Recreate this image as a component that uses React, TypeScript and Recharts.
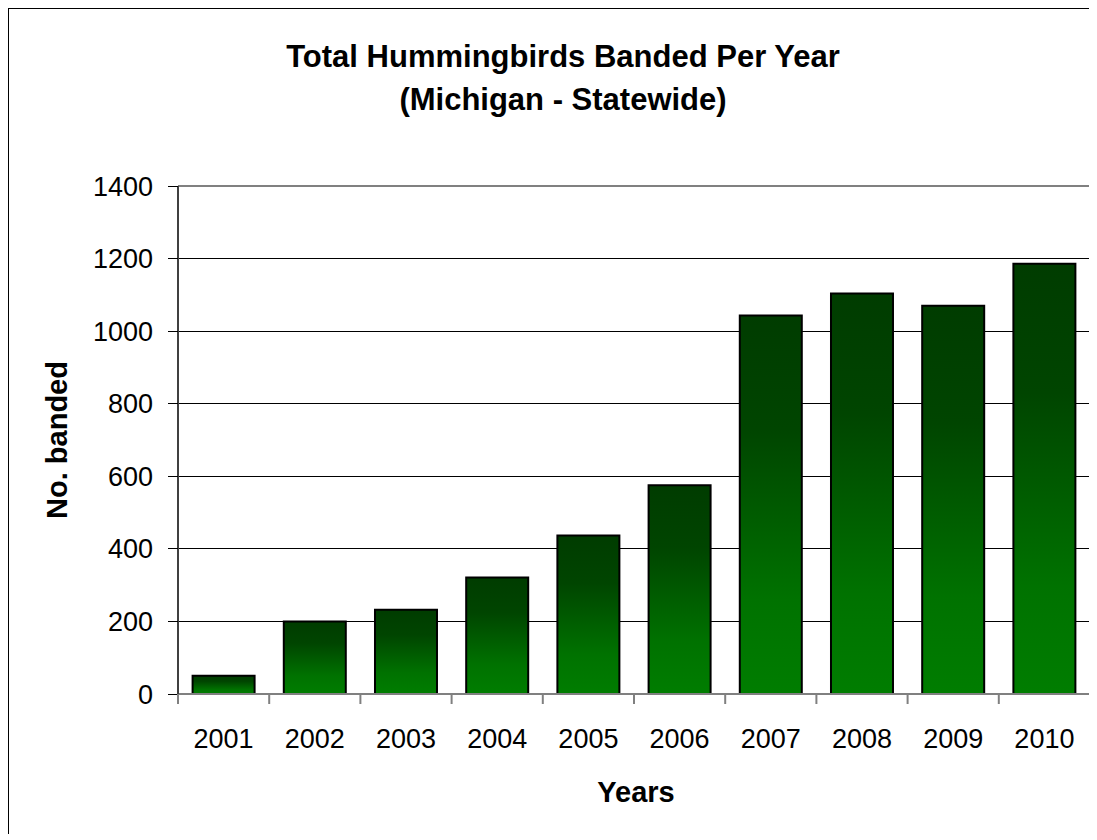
import React from 'react';
import { BarChart, Bar, XAxis, YAxis, CartesianGrid, ReferenceLine } from 'recharts';

const years = ['2001', '2002', '2003', '2004', '2005', '2006', '2007', '2008', '2009', '2010'];
const banded = [50, 200, 232, 321, 437, 575, 1043, 1104, 1070, 1186];
const yTicks = [0, 200, 400, 600, 800, 1000, 1200, 1400];

const data = years.map((y, i) => ({ year: y, banded: banded[i] }));

const FONT = '"Liberation Sans", Arial, sans-serif';

const XTick = (props: any) => {
  const { x, y, payload, index, visibleTicksCount, width } = props;
  const off =
    payload && typeof payload.offset === 'number' && payload.offset > 0
      ? payload.offset
      : width && visibleTicksCount
      ? width / visibleTicksCount / 2
      : 45.6;
  const isLast = index === visibleTicksCount - 1;
  return (
    <g>
      <line x1={x - off} x2={x - off} y1={y} y2={y + 10} stroke="#808080" strokeWidth={2} />
      {isLast && <line x1={x + off} x2={x + off} y1={y} y2={y + 10} stroke="#808080" strokeWidth={2} />}
      <text x={x} y={y + 54} textAnchor="middle" fontSize={27} fontFamily={FONT} fill="#000">
        {payload.value}
      </text>
    </g>
  );
};

export default function App() {
  return (
    <div
      style={{
        position: 'relative',
        width: 1088,
        height: 825,
        borderTop: '1px solid #000',
        borderLeft: '1px solid #000',
        fontFamily: FONT,
      }}
    >
      <div
        style={{
          position: 'absolute',
          left: 254,
          top: 26,
          width: 600,
          textAlign: 'center',
          fontWeight: 'bold',
          fontSize: 31,
          lineHeight: '43px',
          color: '#000',
        }}
      >
        Total Hummingbirds Banded Per Year
        <br />
        (Michigan - Statewide)
      </div>
      <div
        style={{
          position: 'absolute',
          left: 48,
          top: 431,
          transform: 'translate(-50%, -50%) rotate(-90deg)',
          whiteSpace: 'nowrap',
          fontWeight: 'bold',
          fontSize: 29,
          color: '#000',
        }}
      >
        No. banded
      </div>
      <div
        style={{
          position: 'absolute',
          left: 627,
          top: 783,
          transform: 'translate(-50%, -50%)',
          whiteSpace: 'nowrap',
          fontWeight: 'bold',
          fontSize: 29,
          color: '#000',
        }}
      >
        Years
      </div>
      <div style={{ position: 'absolute', left: 0, top: 0 }}>
        <BarChart
          width={1088}
          height={825}
          data={data}
          margin={{ top: 177, right: 7, bottom: 80, left: 0 }}
          barCategoryGap="16%"
        >
          <defs>
            <linearGradient id="barGrad" x1="0" y1="0" x2="0" y2="1">
              <stop offset="0" stopColor="#003c00" />
              <stop offset="0.3" stopColor="#004500" />
              <stop offset="0.75" stopColor="#007200" />
              <stop offset="1" stopColor="#007d00" />
            </linearGradient>
          </defs>
          <CartesianGrid
            yAxisId="l"
            vertical={false}
            stroke="#000"
            strokeWidth={1}
            strokeOpacity={1}
            shapeRendering="crispEdges"
          />
          <XAxis
            dataKey="year"
            height={60}
            interval={0}
            tickSize={0}
            tickMargin={0}
            tickLine={false}
            axisLine={{ stroke: '#808080', strokeWidth: 2 }}
            tick={<XTick />}
          />
          <YAxis
            yAxisId="l"
            width={169}
            domain={[0, 1400]}
            ticks={yTicks}
            interval={0}
            tickSize={10}
            tickMargin={15}
            tickLine={{ stroke: '#000', strokeWidth: 1, shapeRendering: 'crispEdges' }}
            axisLine={{ stroke: '#404040', strokeWidth: 2 }}
            tick={{ fontSize: 27, fontFamily: FONT, fill: '#000' }}
          />
          <YAxis
            yAxisId="r"
            orientation="right"
            width={0}
            domain={[0, 1400]}
            tick={false}
            tickLine={false}
            axisLine={{ stroke: '#808080', strokeWidth: 2 }}
          />
          <ReferenceLine yAxisId="l" y={1400} stroke="#808080" strokeWidth={2} />
          <Bar
            yAxisId="l"
            dataKey="banded"
            fill="url(#barGrad)"
            stroke="#000"
            strokeWidth={2}
            isAnimationActive={false}
          />
        </BarChart>
      </div>
    </div>
  );
}
